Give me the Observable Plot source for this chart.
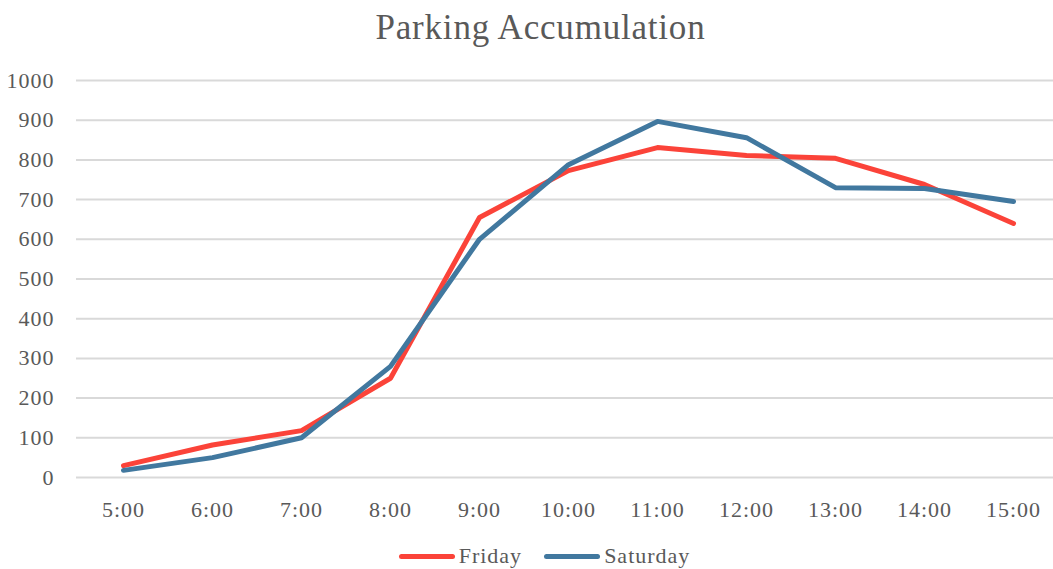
<!DOCTYPE html>
<html>
<head>
<meta charset="utf-8">
<script src="https://cdn.jsdelivr.net/npm/d3@7"></script>
<script src="https://cdn.jsdelivr.net/npm/@observablehq/plot@0.6"></script>
<style>
  html, body { margin: 0; padding: 0; background: #fff; }
  body { width: 1053px; height: 569px; overflow: hidden; font-family: "Liberation Serif", "Times New Roman", serif; color: #595959; }
  #title { height: 55px; line-height: 56px; text-align: center; font-size: 35px; letter-spacing: 0.8px; padding-left: 28px; }
  #legend { display: flex; justify-content: center; align-items: center; height: 44px; font-size: 22px; letter-spacing: 1px; margin-top: 9px; padding-left: 36px; }
  .item { display: flex; align-items: center; margin: 0 11px; }
  .swatch { width: 56px; height: 5px; border-radius: 3px; margin-right: 4px; }
  svg text { letter-spacing: 1px; }
</style>
</head>
<body>
<div id="title">Parking Accumulation</div>
<div id="chart"></div>
<div id="legend"></div>
<script>
const times = ["5:00","6:00","7:00","8:00","9:00","10:00","11:00","12:00","13:00","14:00","15:00"];
const friday = [30, 82, 118, 250, 655, 773, 831, 811, 804, 738, 640];
const saturday = [18, 50, 100, 280, 600, 788, 897, 856, 730, 728, 695];
const seriesNames = ["Friday", "Saturday"];
const seriesColors = ["#fb4339", "#41789f"];
const yTicks = [0,100,200,300,400,500,600,700,800,900,1000];

const data = [];
times.forEach((t, i) => {
  data.push({time: t, value: friday[i], series: "Friday"});
  data.push({time: t, value: saturday[i], series: "Saturday"});
});

const chart = Plot.plot({
  width: 1053,
  height: 470,
  marginTop: 25,
  marginBottom: 48,
  marginLeft: 76,
  marginRight: 0,
  style: { fontFamily: "Liberation Serif, Times New Roman, serif", fontSize: "22px", color: "#595959", background: "#fff" },
  x: { type: "point", domain: times, range: [121, 1014], padding: 0, label: null },
  y: { domain: [0, 1000], label: null },
  color: { domain: seriesNames, range: seriesColors },
  marks: [
    Plot.ruleY(yTicks, { stroke: "#d9d9d9", strokeWidth: 2 }),
    Plot.axisY({ ticks: yTicks, tickFormat: d3.format("d"), tickSize: 0, tickPadding: 22, label: null, fontSize: 22 }),
    Plot.axisX({ tickSize: 0, tickPadding: 24, label: null, fontSize: 22 }),
    Plot.line(data, { x: "time", y: "value", z: "series", stroke: "series", strokeWidth: 5, strokeLinejoin: "round", strokeLinecap: "round" })
  ]
});
document.getElementById("chart").appendChild(chart);

const legend = document.getElementById("legend");
seriesNames.forEach((name, i) => {
  const item = document.createElement("div");
  item.className = "item";
  const sw = document.createElement("div");
  sw.className = "swatch";
  sw.style.background = seriesColors[i];
  const label = document.createElement("span");
  label.textContent = name;
  item.appendChild(sw);
  item.appendChild(label);
  legend.appendChild(item);
});
</script>
</body>
</html>
